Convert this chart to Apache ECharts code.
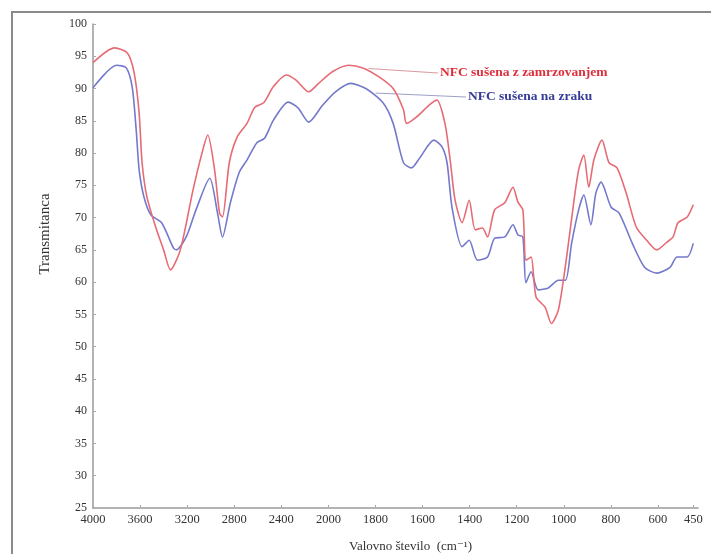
<!DOCTYPE html>
<html>
<head>
<meta charset="utf-8">
<script src="https://cdn.jsdelivr.net/npm/echarts@6/dist/echarts.min.js"></script>
<style>
  html, body { margin: 0; padding: 0; background: #fff; }
  #chart { width: 711px; height: 554px; }
</style>
</head>
<body>
<div id="chart"></div>
<script>
// FTIR spekter - valovno število (cm-1) in transmitanca (%)
const xTicks = [4000, 3600, 3200, 2800, 2400, 2000, 1800, 1600, 1400, 1200, 1000, 800, 600, 450];

const zamrzWn = [4000, 3817, 3708, 3650, 3608, 3583, 3542, 3467, 3400, 3342, 3258, 3150, 3067, 3025, 2967, 2925, 2900, 2842, 2775,
  2692, 2625, 2550, 2467, 2358, 2275, 2167, 2083, 1983, 1914, 1854, 1785, 1725, 1681, 1668, 1625, 1570, 1539, 1505, 1483, 1462,
  1432, 1402, 1376, 1346, 1324, 1294, 1251, 1216, 1195, 1174, 1161, 1139, 1118, 1079, 1053, 1023, 988, 958, 937, 915, 894, 872,
  838, 808, 774, 735, 692, 648, 605, 562, 536, 515, 476, 450];
const zamrzT = [94.0, 96.3, 95.5, 92.4, 86.2, 78.5, 73.2, 68.5, 65.0, 61.9, 65.0, 74.3, 80.5, 82.8, 77.4, 70.7, 70.1, 78.5, 82.5,
  84.6, 87.1, 87.8, 90.3, 92.1, 91.3, 89.5, 90.8, 92.6, 93.6, 93.2, 91.8, 90.0, 86.7, 84.6, 85.6, 87.5, 88.2, 84.6, 79.0, 72.7,
  69.2, 72.7, 68.1, 68.4, 67.0, 71.2, 72.3, 74.7, 72.4, 71.2, 63.4, 63.9, 57.7, 56.1, 53.6, 55.7, 63.9, 72.3, 77.4, 79.7, 74.7, 79.0,
  82.0, 78.5, 77.7, 73.8, 68.5, 66.5, 65.0, 66.2, 67.0, 69.2, 70.1, 72.0];

const zrakWn = [4000, 3800, 3717, 3667, 3633, 3608, 3567, 3508, 3417, 3317, 3292, 3208, 3125, 3008, 2942, 2900, 2833, 2758,
  2692, 2608, 2542, 2467, 2342, 2258, 2167, 2050, 1970, 1905, 1841, 1768, 1725, 1681, 1647, 1613, 1552, 1518, 1496, 1475,
  1432, 1402, 1367, 1324, 1294, 1251, 1216, 1195, 1174, 1161, 1139, 1109, 1066, 1023, 993, 967, 937, 915, 885, 864,
  842, 799, 765, 709, 657, 605, 549, 519, 476, 450];
const zrakT = [90.1, 93.6, 93.2, 90.2, 83.6, 77.4, 73.2, 70.4, 69.2, 65.3, 65.0, 67.0, 71.2, 76.1, 70.7, 67.0, 72.3, 77.0,
  78.9, 81.6, 82.3, 85.1, 87.9, 87.0, 84.8, 87.4, 89.5, 90.8, 90.0, 87.8, 84.6, 78.5, 77.7, 79.2, 82.0, 81.0, 78.5, 71.6,
  65.5, 66.5, 63.4, 63.9, 66.8, 67.0, 68.9, 67.3, 67.0, 59.9, 61.6, 58.8, 59.1, 60.3, 60.3, 66.0, 71.2, 73.5, 68.9, 73.8,
  75.5, 71.6, 70.7, 66.0, 62.3, 61.4, 62.3, 63.9, 63.9, 66.0];

const seriesNames = ['NFC sušena z zamrzovanjem', 'NFC sušena na zraku'];

// os je nad 2000 cm-1 stisnjena za faktor 2
const toU = (w) => (w >= 2000 ? (4000 - w) / 2 : 1000 + (2000 - w));
const fromU = (u) => (u <= 1000 ? 4000 - u * 2 : 2000 - (u - 1000));

const pairs = (wn, t) => wn.map((w, i) => [toU(w), t[i]]);

const serif = '"Liberation Serif", "DejaVu Serif", serif';
const redCol = '#e66b74';
const blueCol = '#7479cb';

const myChart = echarts.init(document.getElementById('chart'));

myChart.setOption({
  animation: false,
  backgroundColor: '#fff',
  grid: { left: 93, top: 24, right: 13, bottom: 46, containLabel: false, outerBoundsMode: 'none' },
  xAxis: {
    type: 'value',
    min: 0,
    max: toU(430),
    name: 'Valovno število  (cm⁻¹)',
    nameLocation: 'middle',
    nameGap: 32,
    nameTextStyle: { fontFamily: serif, fontSize: 13, color: '#333', padding: [0, 0, 0, 30] },
    axisLine: { lineStyle: { color: '#9a9a9a', width: 1.5 } },
    axisTick: { show: true, inside: true, length: 3, customValues: xTicks.map(toU), lineStyle: { color: '#aaa' } },
    axisLabel: {
      customValues: xTicks.map(toU),
      formatter: (u) => String(Math.round(fromU(u))),
      fontFamily: serif, fontSize: 12.5, color: '#333', margin: 5
    },
    splitLine: { show: false }
  },
  yAxis: {
    type: 'value',
    min: 25,
    max: 100,
    interval: 5,
    name: 'Transmitanca',
    nameLocation: 'middle',
    nameRotate: 90,
    nameGap: 40,
    nameTextStyle: { fontFamily: serif, fontSize: 15, color: '#333', padding: [0, 0, 0, 64] },
    axisLine: { show: true, lineStyle: { color: '#9a9a9a', width: 1.5 } },
    axisTick: { show: true, inside: true, length: 3, lineStyle: { color: '#aaa' } },
    axisLabel: { fontFamily: serif, fontSize: 12, color: '#333', margin: 6 },
    splitLine: { show: false }
  },
  series: [
    {
      name: seriesNames[0],
      type: 'line',
      data: pairs(zamrzWn, zamrzT),
      showSymbol: false,
      smooth: 0.25,
      lineStyle: { color: redCol, width: 1.6 },
      z: 3
    },
    {
      name: seriesNames[1],
      type: 'line',
      data: pairs(zrakWn, zrakT),
      showSymbol: false,
      smooth: 0.25,
      lineStyle: { color: blueCol, width: 1.6 },
      z: 2
    }
  ]
});

// okvir in oznake serij z vodilnimi črtami
const redAnchor = myChart.convertToPixel({ gridIndex: 0 }, [toU(1830), 93.1]);
const blueAnchor = myChart.convertToPixel({ gridIndex: 0 }, [toU(1800), 89.3]);

myChart.setOption({
  graphic: [
    {
      type: 'rect', silent: true, z: 0,
      shape: { x: 12, y: 12, width: 712, height: 560 },
      style: { fill: 'none', stroke: '#8a8a8a', lineWidth: 2 }
    },
    {
      type: 'line', silent: true,
      shape: { x1: redAnchor[0], y1: redAnchor[1], x2: 438, y2: 73 },
      style: { stroke: '#d99a9e', lineWidth: 1 }
    },
    {
      type: 'line', silent: true,
      shape: { x1: blueAnchor[0], y1: blueAnchor[1], x2: 466, y2: 97 },
      style: { stroke: '#9ea0c8', lineWidth: 1 }
    },
    {
      type: 'text', silent: true, x: 440, y: 73,
      style: { text: seriesNames[0], fill: '#dd2f3c', font: 'bold 13.5px ' + serif, verticalAlign: 'middle' }
    },
    {
      type: 'text', silent: true, x: 468, y: 97,
      style: { text: seriesNames[1], fill: '#353b96', font: 'bold 13.5px ' + serif, verticalAlign: 'middle' }
    }
  ]
});
</script>
</body>
</html>
